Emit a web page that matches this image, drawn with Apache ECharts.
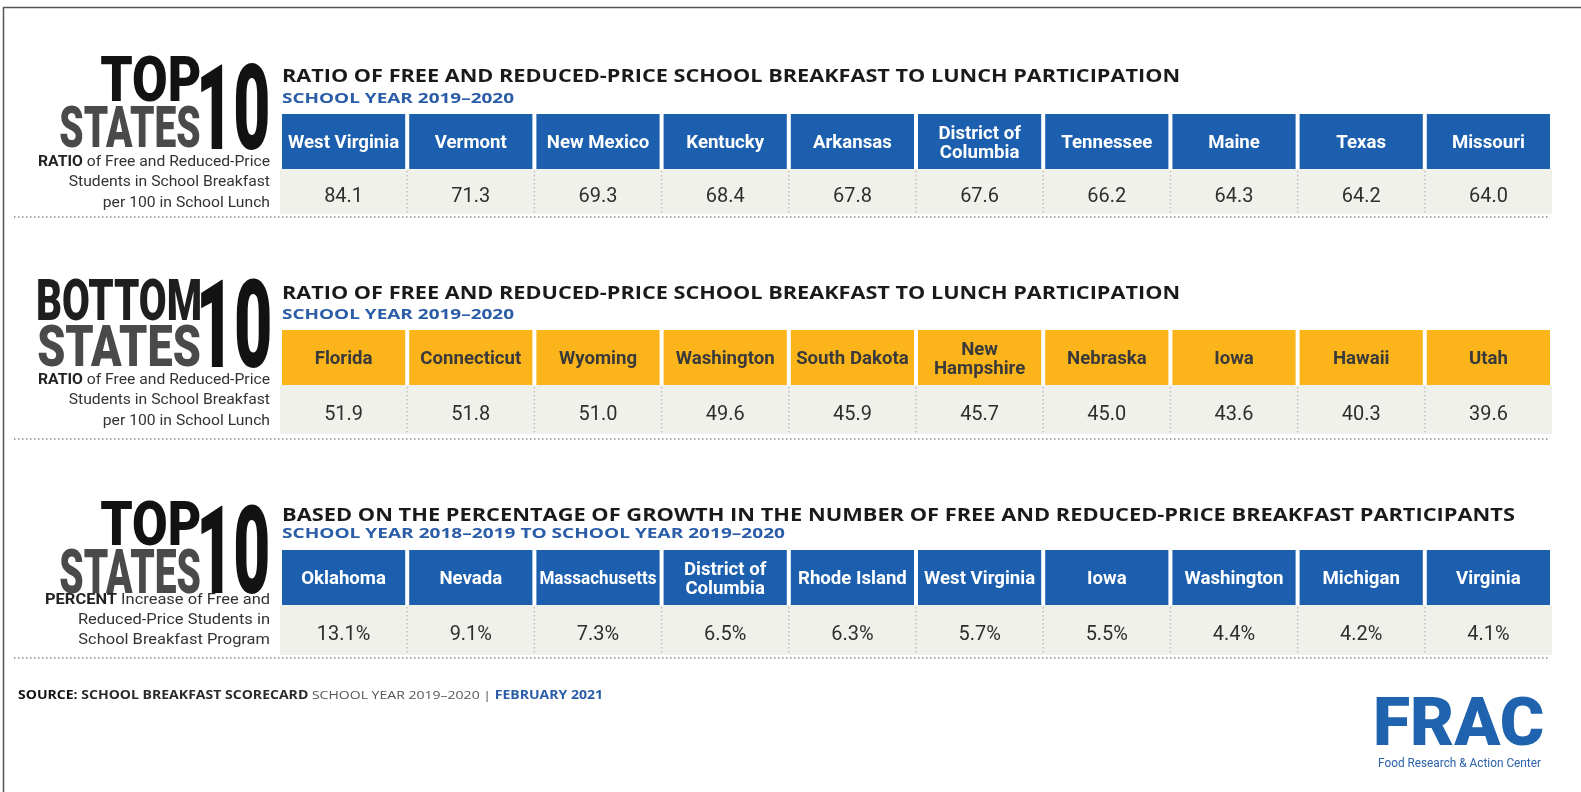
<!DOCTYPE html>
<html><head><meta charset="utf-8">
<script src="https://cdn.jsdelivr.net/npm/echarts@6/dist/echarts.min.js"></script>
<style>html,body{margin:0;padding:0;background:#fff}#c{width:1581px;height:792px}</style>
</head><body><div id="c"></div>
<script>
// ---------- DATA ----------
const topStates = ['West Virginia','Vermont','New Mexico','Kentucky','Arkansas','District of\nColumbia','Tennessee','Maine','Texas','Missouri'];
const topValues = [84.1,71.3,69.3,68.4,67.8,67.6,66.2,64.3,64.2,64.0];
const bottomStates = ['Florida','Connecticut','Wyoming','Washington','South Dakota','New\nHampshire','Nebraska','Iowa','Hawaii','Utah'];
const bottomValues = [51.9,51.8,51.0,49.6,45.9,45.7,45.0,43.6,40.3,39.6];
const growthStates = ['Oklahoma','Nevada','Massachusetts','District of\nColumbia','Rhode Island','West Virginia','Iowa','Washington','Michigan','Virginia'];
const growthValues = [13.1,9.1,7.3,6.5,6.3,5.7,5.5,4.4,4.2,4.1];

const titles = [
  'RATIO OF FREE AND REDUCED-PRICE SCHOOL BREAKFAST TO LUNCH PARTICIPATION',
  'RATIO OF FREE AND REDUCED-PRICE SCHOOL BREAKFAST TO LUNCH PARTICIPATION',
  'BASED ON THE PERCENTAGE OF GROWTH IN THE NUMBER OF FREE AND REDUCED-PRICE BREAKFAST PARTICIPANTS'
];
const subtitles = ['SCHOOL YEAR 2019\u20132020','SCHOOL YEAR 2019\u20132020','SCHOOL YEAR 2018\u20132019 TO SCHOOL YEAR 2019\u20132020'];
const descLines = [
  [['RATIO',' of Free and Reduced-Price'],['','Students in School Breakfast'],['','per 100 in School Lunch']],
  [['RATIO',' of Free and Reduced-Price'],['','Students in School Breakfast'],['','per 100 in School Lunch']],
  [['PERCENT',' Increase of Free and'],['','Reduced-Price Students in'],['','School Breakfast Program']]
];

// ---------- LAYOUT ----------
const BLUE = '#1c5fae', ORANGE = '#fbb41a', CELLBG = '#f1f1ec', SUBBLUE = '#2a5ca8';
const tables = [
  {states: topStates, values: topValues, color: BLUE, txt: '#ffffff', suffix: '', top: 114, bottom: 214, titleY: 77, subY: 99, titleW: 898, subW: 232, dotY: 217},
  {states: bottomStates, values: bottomValues, color: ORANGE, txt: '#3a3a3a', suffix: '', top: 330, bottom: 434, titleY: 294, subY: 315, titleW: 898, subW: 232, dotY: 439},
  {states: growthStates, values: growthValues, color: BLUE, txt: '#ffffff', suffix: '%', top: 550, bottom: 655, titleY: 516, subY: 534, titleW: 1233, subW: 503, dotY: 658}
];
const HEADER_H = 55;

const cv = document.createElement('canvas').getContext('2d');
function mw(text, font){ cv.font = font; return cv.measureText(text).width; }
function maxLineW(text, font){ return Math.max.apply(null, text.split('\n').map(s => mw(s, font))); }

function bigText(text, x1, x2, y1, y2, color){
  cv.textBaseline = 'middle'; cv.textAlign = 'center';
  cv.font = '900 100px Roboto';
  let m = cv.measureText(text);
  const fs = 100 * (y2 - y1) / (m.actualBoundingBoxAscent + m.actualBoundingBoxDescent);
  const font = '900 ' + fs.toFixed(2) + 'px Roboto';
  cv.font = font; m = cv.measureText(text);
  const L = m.actualBoundingBoxLeft, R = m.actualBoundingBoxRight;
  const s = (x2 - x1) / (L + R);
  return {type:'text', x: (x1 + x2)/2 - s*(R - L)/2, y: y1 + m.actualBoundingBoxAscent, scaleX: s, silent:true,
    style:{text: text, font: font, fill: color, align:'center', verticalAlign:'middle'}};
}

const graphics = [];
// frame
graphics.push({type:'line', shape:{x1:3, y1:7.5, x2:1581, y2:7.5}, style:{stroke:'#555', lineWidth:1.5}, silent:true});
graphics.push({type:'line', shape:{x1:3.5, y1:7, x2:3.5, y2:792}, style:{stroke:'#555', lineWidth:1.5}, silent:true});

const bigBlocks = [
  [['TOP',101,200,55,101,'#121212'],['STATES',60,200,105,147,'#4a4a4a'],['10',201,268,63,149,'#121212']],
  [['BOTTOM',38,200,278,321,'#1e1e1e'],['STATES',38,200,324,366,'#4a4a4a'],['10',201,270,278,368,'#121212']],
  [['TOP',101,200,500,545,'#121212'],['STATES',60,200,548,593,'#4a4a4a'],['10',201,268,504,593,'#121212']]
];
const descY = [[162,182,203],[380,400,421],[600,620,640]];
const descW = [232, 232, 225];

tables.forEach((t, k) => {
  const tf = 'bold 18px "Open Sans"';
  graphics.push({type:'text', x:282, y:t.titleY, scaleX: t.titleW / mw(titles[k], tf), silent:true,
    style:{text:titles[k], font:tf, fill:'#1a1a1a', align:'left', verticalAlign:'middle'}});
  const sf = 'bold 14px "Open Sans"';
  graphics.push({type:'text', x:282, y:t.subY, scaleX: t.subW / mw(subtitles[k], sf), silent:true,
    style:{text:subtitles[k], font:sf, fill:SUBBLUE, align:'left', verticalAlign:'middle'}});
  bigBlocks[k].forEach(b => graphics.push(bigText(b[0], b[1], b[2], b[3], b[4], b[5])));
  const bf = 'bold 15px Roboto', rf = '15px Roboto';
  const l0 = descLines[k][0];
  const s = descW[k] / (mw(l0[0], bf) + mw(l0[1], rf));
  descLines[k].forEach((ln, j) => {
    graphics.push({type:'text', x:270, y:descY[k][j], scaleX:s, silent:true,
      style:{text:(ln[0] ? '{b|' + ln[0] + '}' : '') + '{r|' + ln[1] + '}', align:'right', verticalAlign:'middle',
        rich:{b:{fontWeight:'bold', fontSize:15, fontFamily:'Roboto', fill:'#222'}, r:{fontSize:15, fontFamily:'Roboto', fill:'#333'}}}});
  });
  graphics.push({type:'line', shape:{x1:14, y1:t.dotY, x2:1550, y2:t.dotY}, silent:true,
    style:{stroke:'#8a8a8a', lineWidth:1.5, lineDash:[1.5,2.5]}});
});

// source line
const srcParts = [['SOURCE: ','bold'],['SCHOOL BREAKFAST SCORECARD','bold'],[' SCHOOL YEAR 2019\u20132020 | ','normal'],['FEBRUARY 2021','bold']];
const srcW = srcParts.reduce((a, p) => a + mw(p[0], p[1] + ' 11.5px "Open Sans"'), 0);
graphics.push({type:'text', x:18, y:696, scaleX: 585 / srcW, silent:true,
  style:{text:'{a|SOURCE: }{b|SCHOOL BREAKFAST SCORECARD}{c| SCHOOL YEAR 2019\u20132020 | }{d|FEBRUARY 2021}', align:'left', verticalAlign:'middle',
    rich:{a:{fontWeight:'bold',fontSize:11.5,fontFamily:'Open Sans',fill:'#111'},
          b:{fontWeight:'bold',fontSize:11.5,fontFamily:'Open Sans',fill:'#2a2a2a'},
          c:{fontWeight:'normal',fontSize:11.5,fontFamily:'Open Sans',fill:'#555'},
          d:{fontWeight:'bold',fontSize:11.5,fontFamily:'Open Sans',fill:SUBBLUE}}}});
// FRAC logo
graphics.push(bigText('FRAC', 1376, 1543, 696, 746, '#1f63ae'));
const lf = '12px Roboto';
graphics.push({type:'text', x:1378, y:764, scaleX: 163 / mw('Food Research & Action Center', lf), silent:true,
  style:{text:'Food Research & Action Center', font:lf, fill:'#2a62a8', align:'left', verticalAlign:'middle'}});

// ---------- CHART ----------
const HFONT = 'bold 19px Roboto';
const grids = [], xAxes = [], yAxes = [], series = [];
tables.forEach((t, k) => {
  grids.push({left:280, width:1272, top:t.top, height:t.bottom - t.top});
  xAxes.push({type:'category', gridIndex:k, data:t.states, show:false});
  yAxes.push({type:'value', gridIndex:k, min:0, max:100, show:false});
  series.push({
    type:'custom', xAxisIndex:k, yAxisIndex:k, silent:true,
    data: t.values.map((v, i) => [i, v]),
    renderItem: function(params, api){
      const i = api.value(0), v = api.value(1);
      const pTop = api.coord([i, 100]), pBot = api.coord([i, 0]);
      const bw = api.size([1, 0])[0];
      const cx = pTop[0], x0 = cx - bw/2, hb = pTop[1] + HEADER_H;
      const name = t.states[i];
      const nw = maxLineW(name, HFONT);
      const hs = Math.min(0.98, (bw - 10) / nw);
      const children = [
        {type:'rect', shape:{x:x0, y:hb, width:bw, height:pBot[1] - hb}, style:{fill:CELLBG}},
        {type:'rect', shape:{x:x0 + 2, y:pTop[1], width:bw - 4, height:HEADER_H}, style:{fill:t.color}},
        {type:'text', x:cx, y:pTop[1] + HEADER_H/2 + 2, scaleX:hs,
          style:{text:name, fill:t.txt, fontSize:19, fontWeight:'bold', fontFamily:'Roboto', align:'center', verticalAlign:'middle', lineHeight:19}},
        {type:'text', x:cx, y:(hb + pBot[1])/2 + 5, scaleX:0.95,
          style:{text:v.toFixed(1) + t.suffix, fill:'#2e2e2e', fontSize:21, fontFamily:'Roboto', align:'center', verticalAlign:'middle'}}
      ];
      if (i > 0) children.push({type:'line', shape:{x1:x0, y1:hb + 2, x2:x0, y2:pBot[1]},
        style:{stroke:'#b5b5b5', lineWidth:1.2, lineDash:[1.5,2.5]}});
      return {type:'group', children:children};
    }
  });
});

const chart = echarts.init(document.getElementById('c'), null, {renderer:'canvas'});
chart.setOption({
  animation:false,
  backgroundColor:'#ffffff',
  grid:grids, xAxis:xAxes, yAxis:yAxes, series:series,
  graphic:{elements:graphics}
});
</script></body></html>
